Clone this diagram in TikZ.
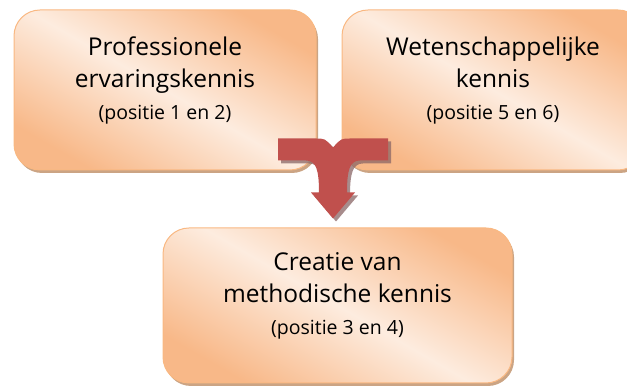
\documentclass[tikz,border=0pt]{standalone}
\usepackage{fontspec}
\setmainfont{Open Sans}
\usepackage{tikz}
\usetikzlibrary{calc,shadows}
\definecolor{boxlight}{HTML}{FDECDF}
\definecolor{boxdark}{HTML}{F8B888}
\definecolor{boxline}{HTML}{F9B882}
\definecolor{boxshade}{HTML}{CBA484}
\definecolor{arrowred}{HTML}{C0504D}
\definecolor{arrowshade}{HTML}{8A6666}
\newcommand{\positie}[1]{{\fontsize{19.5}{33}\selectfont #1}\rule[-24pt]{0pt}{0pt}}
\tikzset{
  kennis/.style={draw=boxline, line width=1pt, rounded corners=26pt,
    top color=boxdark, bottom color=boxdark, middle color=boxlight, shading angle=-30,
    minimum width=302pt, minimum height=160pt, align=center, text=black,
    font=\fontsize{24.5}{32}\selectfont,
    drop shadow={shadow xshift=2pt, shadow yshift=-3pt, fill=boxshade, opacity=1}},
  pijl/.style={fill=arrowred, draw=none,
    drop shadow={shadow xshift=3pt, shadow yshift=-3pt, fill=arrowshade, opacity=.75}},
}

\begin{document}
\begin{tikzpicture}[x=1pt, y=1pt]
\useasboundingbox (0,0) rectangle (627,387);
\clip (0,0) rectangle (627,387);

\node[kennis] (prof) at (165,297) {Professionele\\ervaringskennis\\\positie{(positie 1 en 2)}};
\node[kennis] (wet) at (493,297) {Wetenschappelijke\\kennis\\\positie{(positie 5 en 6)}};
\node[kennis, minimum width=349pt, minimum height=155pt] (creatie) at (337.5,81.5)
  {Creatie van\\methodische kennis\\\positie{(positie 3 en 4)}};

% merging arrow between the two upper boxes
\coordinate (m) at ($(prof.south east)!0.5!(wet.south west)+(4,23)$);
\draw[pijl, shift={(m)}] (-55,9) -- (-18,9) .. controls (-8,9) .. (0,0)
  .. controls (8,9) .. (18,9) -- (55,9) -- (55,-13) -- (27,-13)
  .. controls (17,-13) and (14,-22) .. (14,-45) -- (22,-45) -- (0,-71)
  -- (-22,-45) -- (-14,-45) .. controls (-14,-22) and (-17,-13) .. (-27,-13)
  -- (-55,-13) -- cycle;
\end{tikzpicture}
\end{document}
